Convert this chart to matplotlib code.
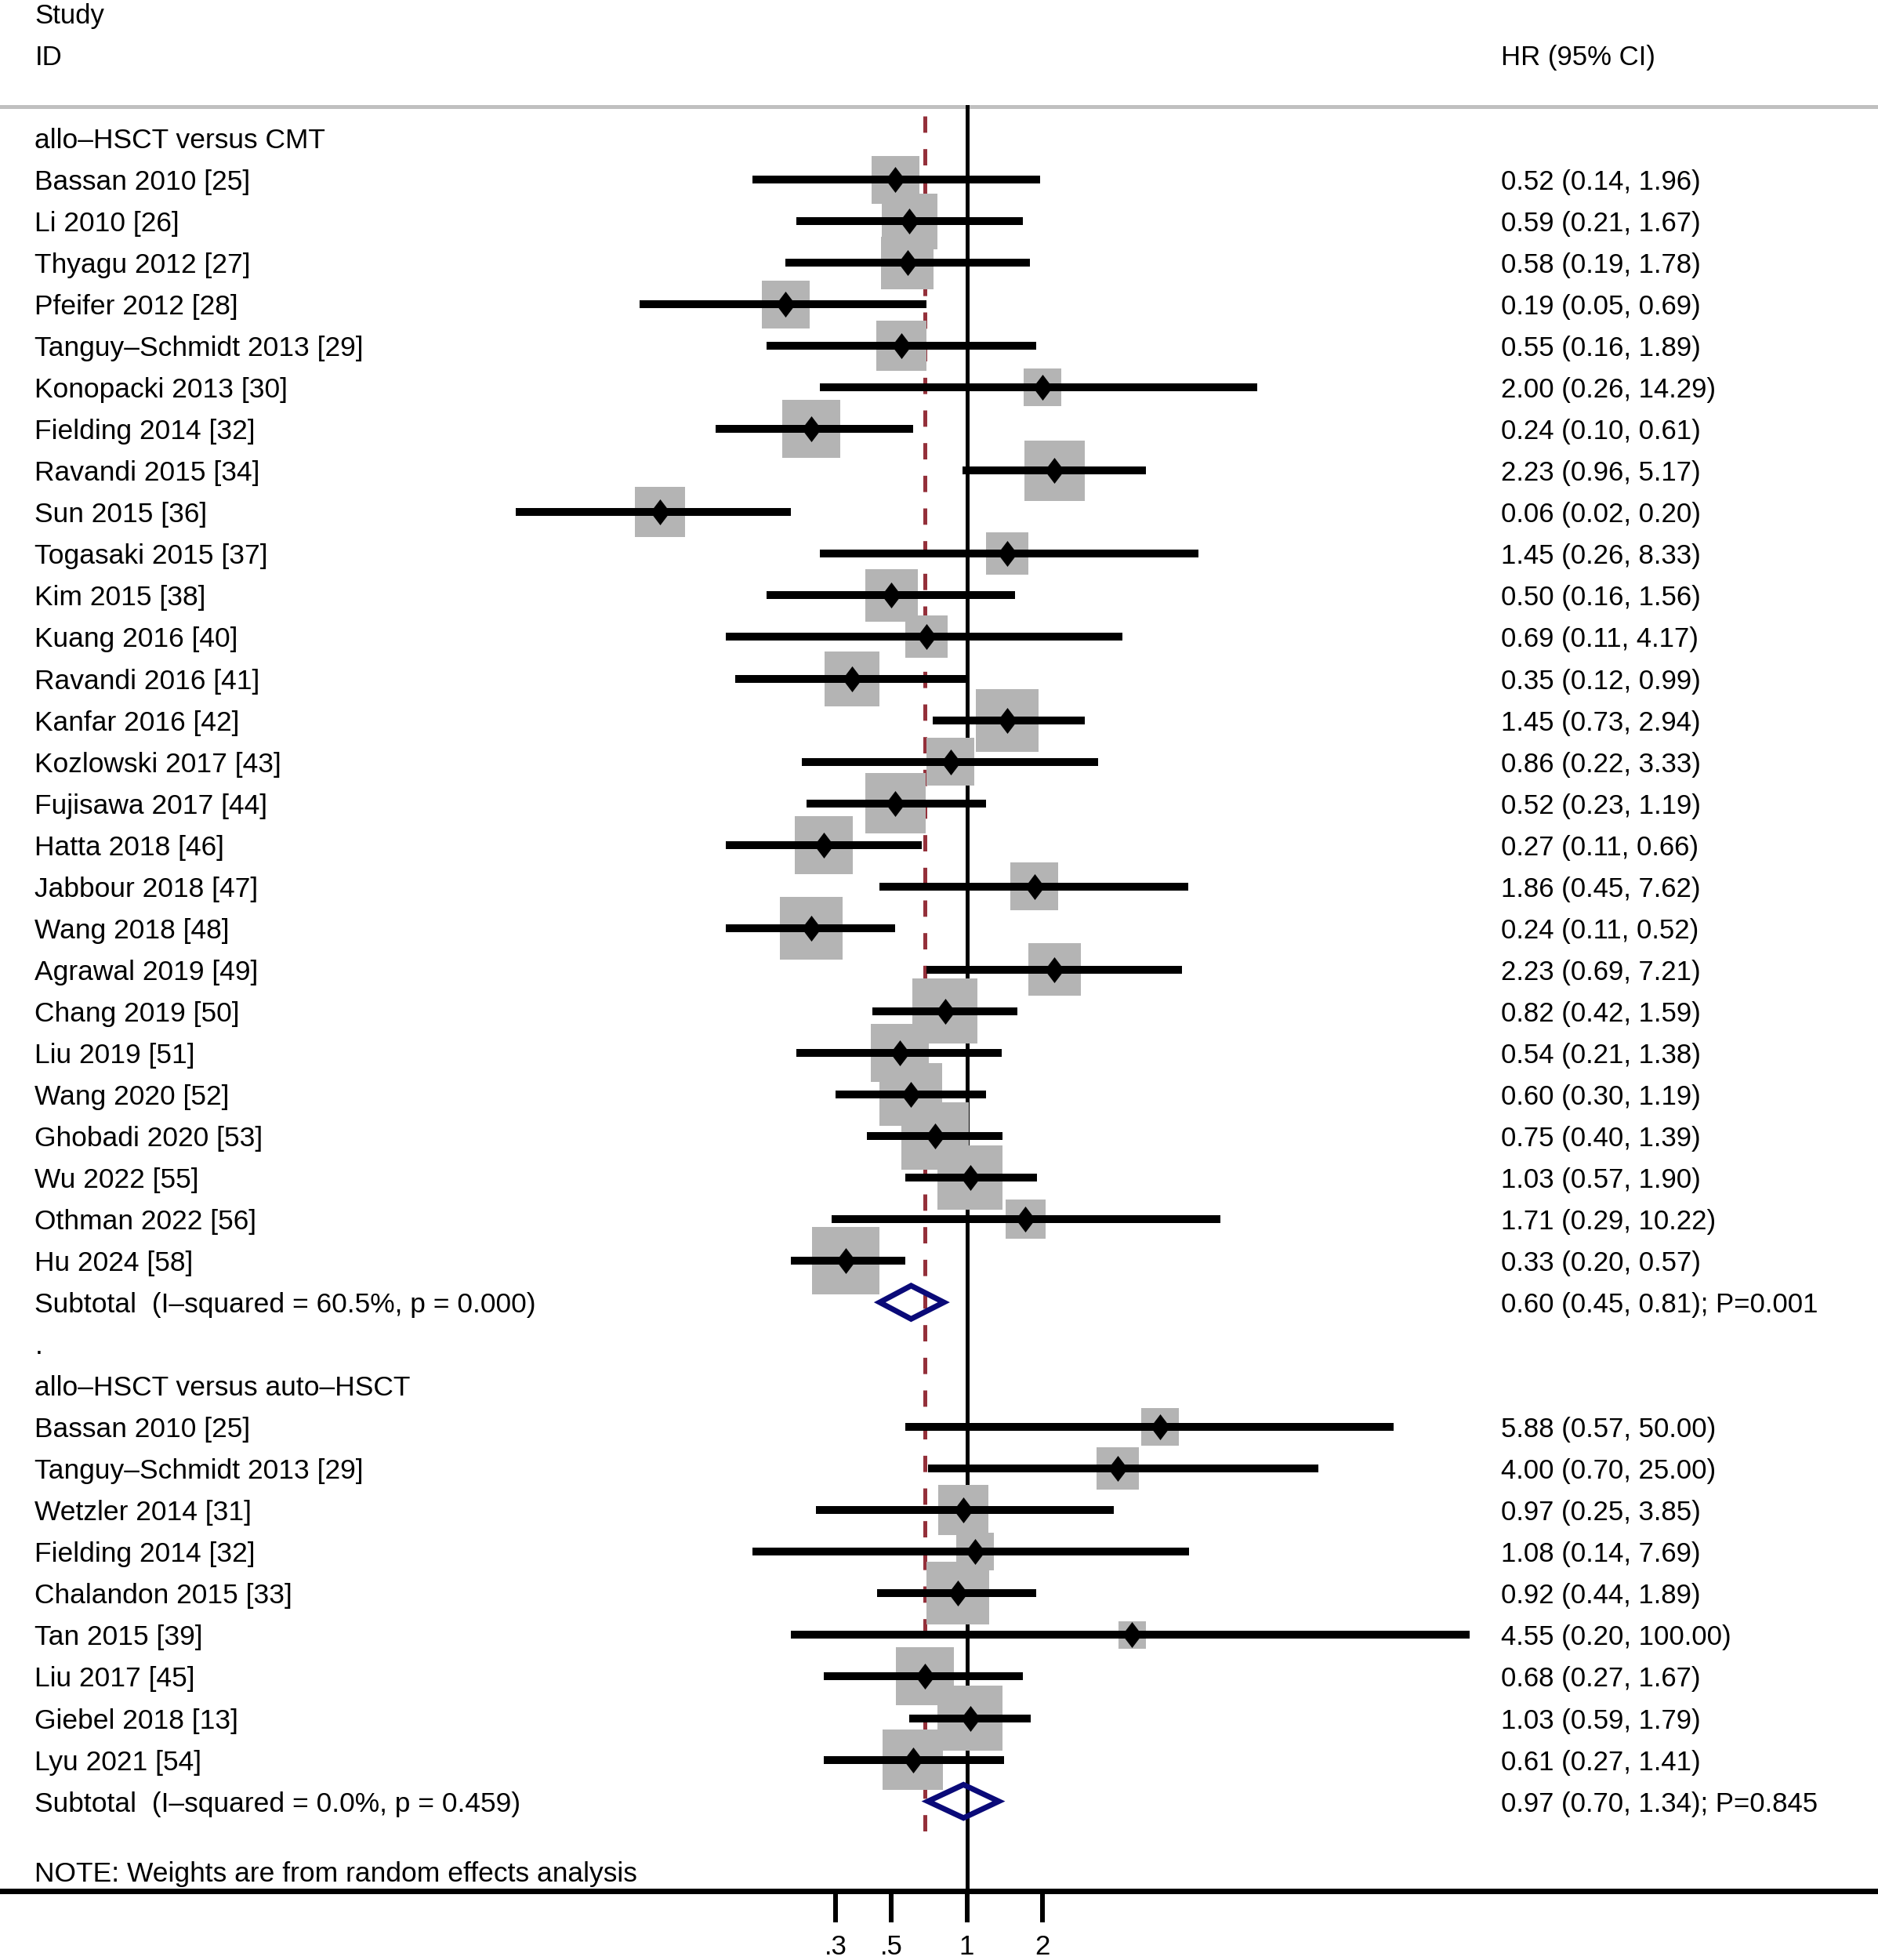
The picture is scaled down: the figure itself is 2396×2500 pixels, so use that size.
import matplotlib.pyplot as plt
import numpy as np
from matplotlib.path import Path
from matplotlib.patches import Polygon

plt.rcParams['font.family'] = ['Liberation Sans', 'DejaVu Sans']
plt.rcParams['lines.scale_dashes'] = False

# allo-HSCT versus CMT
cmt_studies = ['Bassan 2010 [25]', 'Li 2010 [26]', 'Thyagu 2012 [27]', 'Pfeifer 2012 [28]',
               'Tanguy\u2013Schmidt 2013 [29]', 'Konopacki 2013 [30]', 'Fielding 2014 [32]',
               'Ravandi 2015 [34]', 'Sun 2015 [36]', 'Togasaki 2015 [37]', 'Kim 2015 [38]',
               'Kuang 2016 [40]', 'Ravandi 2016 [41]', 'Kanfar 2016 [42]', 'Kozlowski 2017 [43]',
               'Fujisawa 2017 [44]', 'Hatta 2018 [46]', 'Jabbour 2018 [47]', 'Wang 2018 [48]',
               'Agrawal 2019 [49]', 'Chang 2019 [50]', 'Liu 2019 [51]', 'Wang 2020 [52]',
               'Ghobadi 2020 [53]', 'Wu 2022 [55]', 'Othman 2022 [56]', 'Hu 2024 [58]']
cmt_hr = [0.52, 0.59, 0.58, 0.19, 0.55, 2.00, 0.24, 2.23, 0.06, 1.45, 0.50, 0.69, 0.35, 1.45,
          0.86, 0.52, 0.27, 1.86, 0.24, 2.23, 0.82, 0.54, 0.60, 0.75, 1.03, 1.71, 0.33]
cmt_lo = [0.14, 0.21, 0.19, 0.05, 0.16, 0.26, 0.10, 0.96, 0.016, 0.26, 0.16, 0.11, 0.12, 0.73,
          0.22, 0.23, 0.11, 0.45, 0.11, 0.69, 0.42, 0.21, 0.30, 0.40, 0.57, 0.29, 0.20]
cmt_hi = [1.96, 1.67, 1.78, 0.69, 1.89, 14.29, 0.61, 5.17, 0.20, 8.33, 1.56, 4.17, 0.99, 2.94,
          3.33, 1.19, 0.66, 7.62, 0.52, 7.21, 1.59, 1.38, 1.19, 1.39, 1.90, 10.22, 0.57]
cmt_wt = [2.18, 2.95, 2.63, 2.18, 2.40, 1.35, 3.21, 3.47, 2.40, 1.71, 2.63, 1.71, 2.87, 3.75,
          2.18, 3.47, 3.21, 2.18, 3.75, 2.63, 4.03, 3.21, 3.75, 4.33, 4.03, 1.52, 4.33]
cmt_sub = (0.60, 0.45, 0.81)
cmt_sub_p = '0.001'
cmt_i2, cmt_het_p = '60.5', '0.000'

# allo-HSCT versus auto-HSCT
auto_studies = ['Bassan 2010 [25]', 'Tanguy\u2013Schmidt 2013 [29]', 'Wetzler 2014 [31]',
                'Fielding 2014 [32]', 'Chalandon 2015 [33]', 'Tan 2015 [39]', 'Liu 2017 [45]',
                'Giebel 2018 [13]', 'Lyu 2021 [54]']
auto_hr = [5.88, 4.00, 0.97, 1.08, 0.92, 4.55, 0.68, 1.03, 0.61]
auto_lo = [0.57, 0.70, 0.25, 0.14, 0.44, 0.20, 0.27, 0.59, 0.27]
auto_hi = [50.00, 25.00, 3.85, 7.69, 1.89, 100.00, 1.67, 1.79, 1.41]
auto_wt = [1.35, 1.71, 2.40, 1.35, 3.75, 0.72, 3.21, 4.03, 3.47]
auto_sub = (0.97, 0.70, 1.34)
auto_sub_p = '0.845'
auto_i2, auto_het_p = '0.0', '0.459'

overall_hr = 0.68
ticks = [0.3, 0.5, 1, 2]
tick_labels = ['.3', '.5', '1', '2']

W, H, DPI = 2396, 2500, 100
PX = 72.0 / DPI  # points per pixel
FS = 25
FS_LEFT = 25.5

fig = plt.figure(figsize=(W / DPI, H / DPI), dpi=DPI)
ax = fig.add_axes([0, 0, 1, 1])
ax.set_xscale('log')
# x pixel = 1233.5 + 139.2 * ln(HR)
ax.set_xlim(np.exp(-1233.5 / 139.2), np.exp((W - 1233.5) / 139.2))
row0, row_h = 176.0, 53.04
ax.set_ylim((H - row0) / row_h, -row0 / row_h)
ax.axis('off')

tr = ax.get_yaxis_transform()
x_left = 44.5 / W
x_right = 1915.0 / W

diamond = Path([(0, 1), (0.76, 0), (0, -1), (-0.76, 0), (0, 1)],
               [Path.MOVETO, Path.LINETO, Path.LINETO, Path.LINETO, Path.CLOSEPOLY])

# header
ax.text(x_left, -2.99, 'Study', transform=tr, fontsize=FS, va='center_baseline')
ax.text(x_left, -2.0, 'ID', transform=tr, fontsize=FS, va='center_baseline')
ax.text(x_right, -2.0, 'HR (95% CI)', transform=tr, fontsize=FS, va='center_baseline')
ax.axhline(-0.76, color='#c0c0c0', lw=5 * PX, zorder=1)

axis_y = 42.16
ax.plot([1, 1], [-0.76, axis_y], color='black', lw=5 * PX, zorder=2)
ax.plot([overall_hr, overall_hr], [-0.53, 40.82], color='#94303a', lw=5 * PX,
        dashes=(15, 15), zorder=2)


def draw_group(start, title, studies, hr, lo, hi, wt, sub, sub_p, i2, het_p):
    ax.text(x_left, start, title, transform=tr, fontsize=FS_LEFT, va='center_baseline')
    ys = np.arange(len(studies)) + start + 1
    sizes = [(41.3 * np.sqrt(w) * PX) ** 2 for w in wt]
    ax.scatter(hr, ys, s=sizes, marker='s', color='#b4b4b4', linewidths=0, zorder=3)
    for name, y, h, l, u in zip(studies, ys, hr, lo, hi):
        ax.plot([l, u], [y, y], color='black', lw=10 * PX, solid_capstyle='butt', zorder=4)
        ax.plot(h, y, marker=diamond, markersize=33 * PX, color='black', mew=0, zorder=5)
        ax.text(x_left, y, name, transform=tr, fontsize=FS_LEFT, va='center_baseline')
        ax.text(x_right, y, f'{h:.2f} ({l:.2f}, {u:.2f})', transform=tr, fontsize=FS,
                va='center_baseline')
    ys_sub = ys[-1] + 1
    h, l, u = sub
    d = 0.40
    ax.add_patch(Polygon([(l, ys_sub), (h, ys_sub - d), (u, ys_sub), (h, ys_sub + d)],
                         closed=True, fill=False, edgecolor='#0a0a78', lw=7 * PX,
                         joinstyle='miter', zorder=6))
    ax.text(x_left, ys_sub, f'Subtotal  (I\u2013squared = {i2}%, p = {het_p})', transform=tr,
            fontsize=FS_LEFT, va='center_baseline')
    ax.text(x_right, ys_sub, f'{h:.2f} ({l:.2f}, {u:.2f}); P={sub_p}', transform=tr,
            fontsize=FS, va='center_baseline')
    return ys_sub


end1 = draw_group(0, 'allo\u2013HSCT versus CMT', cmt_studies, cmt_hr, cmt_lo, cmt_hi, cmt_wt,
                  cmt_sub, cmt_sub_p, cmt_i2, cmt_het_p)
ax.text(x_left, end1 + 1, '.', transform=tr, fontsize=FS_LEFT, va='center_baseline')
end2 = draw_group(end1 + 2, 'allo\u2013HSCT versus auto\u2013HSCT', auto_studies, auto_hr,
                  auto_lo, auto_hi, auto_wt, auto_sub, auto_sub_p, auto_i2, auto_het_p)

ax.text(x_left, 41.68, 'NOTE: Weights are from random effects analysis', transform=tr,
        fontsize=FS_LEFT, va='center_baseline')

# x axis
ax.axhline(axis_y, color='black', lw=7 * PX, zorder=2)
for t, lab in zip(ticks, tick_labels):
    ax.plot([t, t], [axis_y, axis_y + 40 / row_h], color='black', lw=6 * PX,
            solid_capstyle='butt', zorder=2)
    ax.text(t, axis_y + 55 / row_h, lab, fontsize=FS, ha='center', va='top')

fig.savefig('out.png', dpi=DPI)
